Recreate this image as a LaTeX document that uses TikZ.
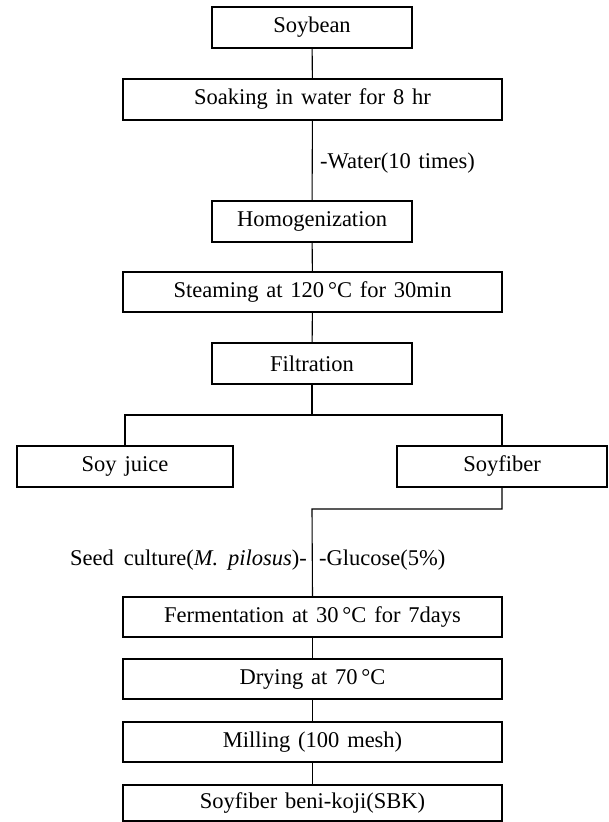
\documentclass[tikz,border=0pt]{standalone}
\usepackage{fontspec}
\setmainfont{Liberation Serif}[WordSpace=1.4]
\usepackage{tikz}
\usetikzlibrary{calc, positioning}
\tikzset{>=latex}

\begin{document}
\begin{tikzpicture}[
    x = 1pt, y = -1pt,
    txt/.style = {font = \fontsize{22.5}{27}\selectfont, inner sep = 0pt},
    box/.style = {txt, draw, line width = 1.1pt, minimum height = 41pt},
    sbox/.style = {box, minimum width = 200pt},
    wbox/.style = {box, minimum width = 379pt},
    ln/.style = {line width = 1.1pt}
]
\useasboundingbox (0,0) rectangle (608,822);

\node[sbox] (soybean) at (312, 27.5) {Soybean};
\node[wbox] (soaking) at (312.5, 99.5) {Soaking in water for 8 hr};
\node[sbox] (homog) at (312, 221.5) {Homogenization};
\node[wbox, minimum height = 40pt] (steam) at (312.5, 292) {Steaming at 120\,°C for 30min};
\node[sbox] (filt) at (312, 363.5) {Filtration};
\node[box, minimum width = 216pt] (juice) at (125, 466.5) {Soy juice};
\node[box, minimum width = 210pt] (fiber) at (502, 466.5) {Soyfiber};
\node[wbox, minimum height = 40pt] (ferm) at (312.5, 617) {Fermentation at 30\,°C for 7days};
\node[wbox, minimum height = 40pt] (dry) at (312.5, 679) {Drying at 70\,°C};
\node[wbox, minimum height = 40pt] (mill) at (312.5, 742) {Milling (100 mesh)};
\node[wbox, minimum height = 36pt] (sbk) at (312.5, 803) {Soyfiber beni-koji(SBK)};

\coordinate (split) at (312, 415);
\coordinate (bend) at (312, 509);

\draw[ln] (soybean) -- (soaking);
\draw[ln] (soaking) -- (homog);
\node[txt, anchor = west] (water) at (320, 163) {-Water(10 times)};
\draw[ln] (homog) -- (steam);
\draw[ln] (steam) -- (filt);
\draw[ln] (filt) -- (split);
\draw[ln] (juice.north) |- (split) -| (fiber.north);
\draw[ln] (fiber.south) |- (bend) -- (ferm.north);
\node[txt, anchor = east] (seed) at (307, 560) {Seed\hspace{2pt} culture(\textit{M.}\hspace{2pt} \textit{pilosus})-};
\node[txt, anchor = west] (gluc) at (319, 560) {-Glucose(5\%)};
\draw[ln] (ferm) -- (dry);
\draw[ln] (dry) -- (mill);
\draw[ln] (mill) -- (sbk);
\end{tikzpicture}
\end{document}
